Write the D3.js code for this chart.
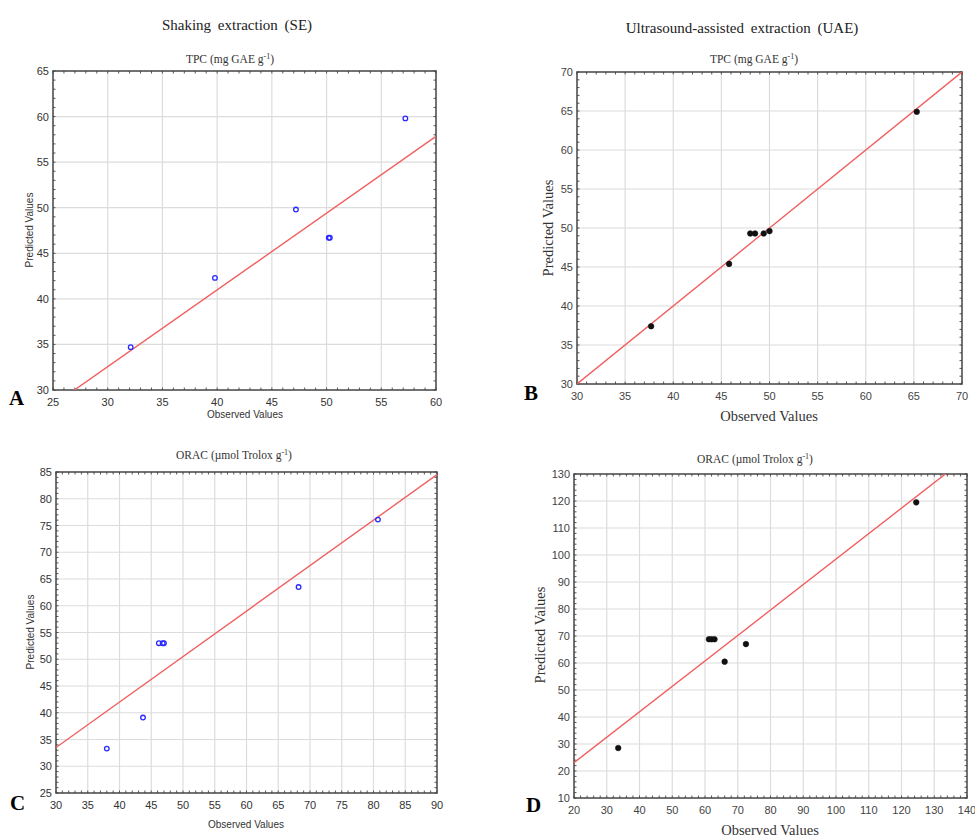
<!DOCTYPE html>
<html><head><meta charset="utf-8">
<script src="https://cdn.jsdelivr.net/npm/d3@7"></script>
<style>body{margin:0;background:#fff}svg{display:block}</style>
</head><body>
<svg id="c" width="975" height="838"></svg>
<script>
// ---- data ----
const titles = ["Shaking extraction (SE)", "Ultrasound-assisted extraction (UAE)"];
const panelLetters = ["A", "B", "C", "D"];
const subTitles = [["TPC (mg GAE g", "-1", ")"], ["TPC (mg GAE g", "-1", ")"], ["ORAC (\u00b5mol Trolox g", "-1", ")"], ["ORAC (\u00b5mol Trolox g", "-1", ")"]];
const xTitle = "Observed Values";
const yTitle = "Predicted Values";

const obsA = [32.1, 39.8, 47.2, 50.2, 50.3, 57.2];
const predA = [34.7, 42.3, 49.8, 46.7, 46.7, 59.8];
const fitA = [7.3, 0.842];          // intercept, slope
const xTicksA = [25, 30, 35, 40, 45, 50, 55, 60];
const yTicksA = [30, 35, 40, 45, 50, 55, 60, 65];

const obsB = [37.7, 45.8, 48.0, 48.5, 49.4, 50.0, 65.3];
const predB = [37.4, 45.4, 49.3, 49.3, 49.3, 49.6, 64.9];
const fitB = [0.0, 1.0];
const xTicksB = [30, 35, 40, 45, 50, 55, 60, 65, 70];
const yTicksB = [30, 35, 40, 45, 50, 55, 60, 65, 70];

const obsC = [38.0, 43.7, 46.2, 46.8, 47.0, 68.2, 80.7];
const predC = [33.3, 39.1, 53.0, 53.0, 53.0, 63.5, 76.1];
const fitC = [8.0, 0.85];
const xTicksC = [30, 35, 40, 45, 50, 55, 60, 65, 70, 75, 80, 85, 90];
const yTicksC = [25, 30, 35, 40, 45, 50, 55, 60, 65, 70, 75, 80, 85];

const obsD = [33.5, 61.2, 62.0, 62.9, 66.0, 72.5, 124.5];
const predD = [28.5, 68.8, 68.8, 68.8, 60.5, 67.0, 119.5];
const fitD = [4.2, 0.943];
const xTicksD = [20, 30, 40, 50, 60, 70, 80, 90, 100, 110, 120, 130, 140];
const yTicksD = [10, 20, 30, 40, 50, 60, 70, 80, 90, 100, 110, 120, 130];

// ---- layout ----
const svg = d3.select("#c");
const serif = "'Liberation Serif','DejaVu Serif',serif";
const sans = "'Liberation Sans Narrow','Liberation Sans',Arial,sans-serif";

svg.append("text").attr("x", 237).attr("y", 30).attr("text-anchor", "middle")
  .attr("font-family", serif).attr("font-size", 15).attr("word-spacing", 3).attr("fill", "#222").text(titles[0]);
svg.append("text").attr("x", 742).attr("y", 33).attr("text-anchor", "middle")
  .attr("font-family", serif).attr("font-size", 15).attr("word-spacing", 3).attr("fill", "#222").text(titles[1]);

const panels = [
  {obs: obsA, pred: predA, fit: fitA, xt: xTicksA, yt: yTicksA, l: 53, r: 436, t: 71, b: 390,
   open: true, serifLabels: false, sub: subTitles[0], subX: 230, subY: 63,
   xlX: 245, xlY: 418, ylX: 33, ylY: 230, letter: panelLetters[0], letX: 9, letY: 405, minor: 5},
  {obs: obsB, pred: predB, fit: fitB, xt: xTicksB, yt: yTicksB, l: 577, r: 962, t: 72, b: 384,
   open: false, serifLabels: true, sub: subTitles[1], subX: 754, subY: 63,
   xlX: 769, xlY: 421, ylX: 553, ylY: 228, letter: panelLetters[1], letX: 524, letY: 400, minor: 5},
  {obs: obsC, pred: predC, fit: fitC, xt: xTicksC, yt: yTicksC, l: 56, r: 437, t: 472, b: 793,
   open: true, serifLabels: false, sub: subTitles[2], subX: 234, subY: 459,
   xlX: 246, xlY: 828, ylX: 34, ylY: 632, letter: panelLetters[2], letX: 10, letY: 810, minor: 5},
  {obs: obsD, pred: predD, fit: fitD, xt: xTicksD, yt: yTicksD, l: 574, r: 967, t: 474, b: 798,
   open: false, serifLabels: true, sub: subTitles[3], subX: 755, subY: 463,
   xlX: 770, xlY: 835, ylX: 545, ylY: 635, letter: panelLetters[3], letX: 526, letY: 812, minor: 5}
];

panels.forEach((p, i) => {
  const g = svg.append("g");
  const x = d3.scaleLinear().domain(d3.extent(p.xt)).range([p.l, p.r]);
  const y = d3.scaleLinear().domain(d3.extent(p.yt)).range([p.b, p.t]);
  const clipId = "clip" + i;
  g.append("clipPath").attr("id", clipId).append("rect")
    .attr("x", p.l).attr("y", p.t).attr("width", p.r - p.l).attr("height", p.b - p.t);

  // grid
  g.append("g").selectAll("line").data(p.xt.slice(1, -1)).join("line")
    .attr("x1", d => x(d)).attr("x2", d => x(d)).attr("y1", p.t).attr("y2", p.b)
    .attr("stroke", "#dcdcdc").attr("stroke-width", 1.2);
  g.append("g").selectAll("line").data(p.yt.slice(1, -1)).join("line")
    .attr("y1", d => y(d)).attr("y2", d => y(d)).attr("x1", p.l).attr("x2", p.r)
    .attr("stroke", "#dcdcdc").attr("stroke-width", 1.2);

  // minor ticks (inside, all four sides)
  const xs = p.xt[1] - p.xt[0], ys = p.yt[1] - p.yt[0];
  const xMinor = d3.range(p.xt[0], p.xt[p.xt.length - 1] + 1e-9, xs / p.minor);
  const yMinor = d3.range(p.yt[0], p.yt[p.yt.length - 1] + 1e-9, ys / p.minor);
  const tk = 2.5;
  const mt = g.append("g").attr("stroke", "#555").attr("stroke-width", 1);
  mt.selectAll(".xb").data(xMinor).join("line").attr("x1", d => x(d)).attr("x2", d => x(d)).attr("y1", p.b).attr("y2", p.b - tk);
  mt.selectAll(".xt").data(xMinor).join("line").attr("x1", d => x(d)).attr("x2", d => x(d)).attr("y1", p.t).attr("y2", p.t + tk);
  mt.selectAll(".yl").data(yMinor).join("line").attr("y1", d => y(d)).attr("y2", d => y(d)).attr("x1", p.l).attr("x2", p.l + tk);
  mt.selectAll(".yr").data(yMinor).join("line").attr("y1", d => y(d)).attr("y2", d => y(d)).attr("x1", p.r).attr("x2", p.r - tk);

  // frame
  g.append("rect").attr("x", p.l).attr("y", p.t).attr("width", p.r - p.l).attr("height", p.b - p.t)
    .attr("fill", "none").attr("stroke", "#444").attr("stroke-width", 1.5);

  // fit line
  const x0 = x.domain()[0], x1 = x.domain()[1];
  g.append("line").attr("clip-path", `url(#${clipId})`)
    .attr("x1", x(x0)).attr("y1", y(p.fit[0] + p.fit[1] * x0))
    .attr("x2", x(x1)).attr("y2", y(p.fit[0] + p.fit[1] * x1))
    .attr("stroke", "#f06060").attr("stroke-width", 1.4);

  // points
  const pts = p.obs.map((v, k) => [v, p.pred[k]]);
  g.append("g").selectAll("circle").data(pts).join("circle")
    .attr("cx", d => x(d[0])).attr("cy", d => y(d[1]))
    .attr("r", p.open ? 2.3 : 2.8)
    .attr("fill", p.open ? "none" : "#111")
    .attr("stroke", p.open ? "#2a2aff" : "#111")
    .attr("stroke-width", p.open ? 1.3 : 0.6);

  // tick labels
  const tcol = p.serifLabels ? "#444" : "#333";
  g.append("g").selectAll("text").data(p.xt).join("text")
    .attr("x", d => x(d)).attr("y", p.b + 16).attr("text-anchor", "middle")
    .attr("font-family", sans).attr("font-size", 11).attr("fill", tcol).text(d => d);
  g.append("g").selectAll("text").data(p.yt).join("text")
    .attr("x", p.l - 4).attr("y", d => y(d) + 4).attr("text-anchor", "end")
    .attr("font-family", sans).attr("font-size", 11).attr("fill", tcol).text(d => d);

  // axis titles
  const af = p.serifLabels ? serif : sans;
  const as = p.serifLabels ? 14.5 : 10;
  g.append("text").attr("x", p.xlX).attr("y", p.xlY).attr("text-anchor", "middle")
    .attr("font-family", af).attr("font-size", as).attr("fill", "#333").text(xTitle);
  g.append("text").attr("transform", `translate(${p.ylX},${p.ylY}) rotate(-90)`).attr("text-anchor", "middle")
    .attr("font-family", af).attr("font-size", as).attr("fill", "#333").text(yTitle);

  // subtitle
  const st = g.append("text").attr("x", p.subX).attr("y", p.subY).attr("text-anchor", "middle")
    .attr("font-family", serif).attr("font-size", 11.5).attr("fill", "#333");
  st.append("tspan").text(p.sub[0]);
  st.append("tspan").attr("dy", -4).attr("font-size", 8).text(p.sub[1]);
  st.append("tspan").attr("dy", 4).text(p.sub[2]);

  // panel letter
  g.append("text").attr("x", p.letX).attr("y", p.letY)
    .attr("font-family", serif).attr("font-size", 21).attr("font-weight", "bold").attr("fill", "#000").text(p.letter);
});
</script>
</body></html>
